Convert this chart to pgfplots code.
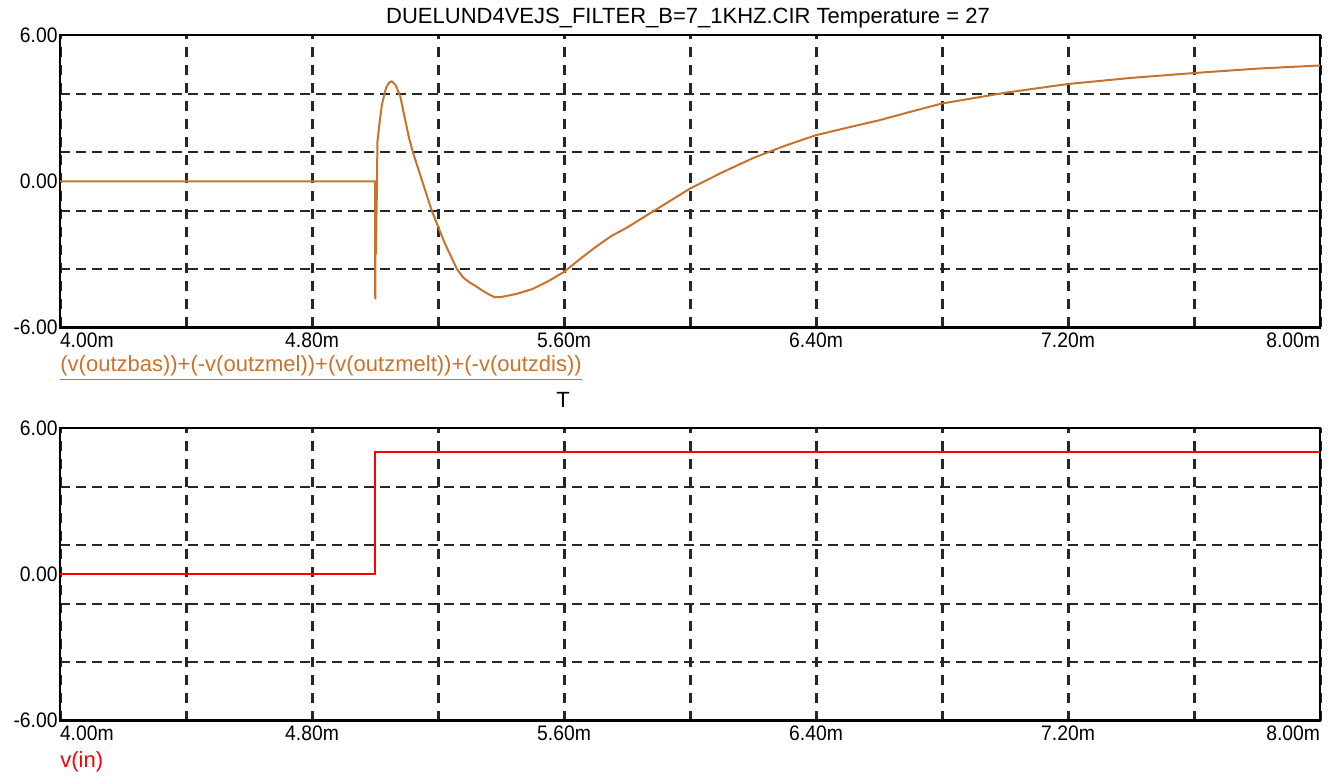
\documentclass[border=0pt]{standalone}
\usepackage{fontspec}
\setmainfont{Liberation Sans}
\newfontfamily\narrowfont{Liberation Sans}[FakeStretch=0.92]
\usepackage{pgfplots}
\pgfplotsset{compat=1.18}
\definecolor{curveor}{RGB}{200,115,45}
\definecolor{inred}{RGB}{255,0,0}

\pgfplotsset{
  panel/.style={
    scale only axis, width=630pt, height=146.25pt, anchor=south west,
    xmin=4, xmax=8, ymin=-6, ymax=6,
    xtick={4,4.4,4.8,5.2,5.6,6.0,6.4,6.8,7.2,7.6,8},
    xticklabels={{\rlap{4.00m}},{},{4.80m},{},{5.60m},{},{6.40m},{},{7.20m},{},{\llap{8.00m}}},
    ytick={-6,0,6}, yticklabels={-6.00,0.00,6.00},
    minor ytick={-3.6,-1.2,1.2,3.6},
    xmajorgrids, yminorgrids, ymajorgrids=false,
    major grid style={black!85, line width=1.5pt, dash pattern=on 5pt off 4pt},
    minor grid style={black!85, line width=1pt, dash pattern=on 5pt off 3pt},
    major tick length=0pt, minor tick length=0pt,
    axis line style={black, line width=1.3pt},
    tick label style={font=\narrowfont\fontsize{10.5}{12}\selectfont},
    xticklabel style={anchor=north, inner sep=1pt, yshift=-1.5pt},
    yticklabel style={anchor=east, inner sep=1pt},
  }
}

\begin{document}
\begin{tikzpicture}
\path[use as bounding box] (0pt,0pt) rectangle (666.5pt,389pt);

\begin{axis}[panel, at={(30pt,225.25pt)}]
\addplot[curveor, line width=1pt] coordinates {
(4.0,0) (5.0,0) (5.0008,-4.85) (5.002,-0.8) (5.003,-3.0) (5.005,-1.1)
(5.0065,-0.2) (5.0075,1.6) (5.015,2.45) (5.022,3.15) (5.035,3.83)
(5.045,4.05) (5.053,4.1) (5.065,3.95) (5.08,3.5) (5.092,2.75)
(5.108,1.78) (5.12,1.2) (5.14,0.4) (5.16,-0.4) (5.18,-1.2)
(5.2,-1.85) (5.22,-2.5) (5.24,-3.05) (5.26,-3.6) (5.28,-3.95)
(5.3,-4.15) (5.32,-4.3) (5.34,-4.48) (5.36,-4.63) (5.38,-4.76)
(5.4,-4.75) (5.45,-4.62) (5.5,-4.42) (5.55,-4.1) (5.6,-3.72)
(5.65,-3.2) (5.7,-2.7) (5.75,-2.25) (5.8,-1.9) (5.85,-1.5)
(5.9,-1.1) (5.95,-0.7) (6.0,-0.3) (6.1,0.35) (6.2,0.95)
(6.3,1.45) (6.4,1.89) (6.5,2.2) (6.6,2.5) (6.7,2.85)
(6.8,3.19) (7.0,3.63) (7.2,3.99) (7.4,4.24) (7.6,4.44)
(7.8,4.62) (8.0,4.75)
};
\end{axis}

\begin{axis}[panel, at={(30pt,28.75pt)}]
\addplot[inred, line width=1pt] coordinates {
(4.0,0) (5.0,0) (5.0,5.0) (8.0,5.0)
};
\end{axis}

\node[font=\fontsize{11}{13}\selectfont] at (344pt,380pt) {DUELUND4VEJS\_FILTER\_B=7\_1KHZ.CIR Temperature = 27};
\node[anchor=west, inner sep=0pt, text=curveor, font=\fontsize{11}{13}\selectfont] at (30pt,205pt) {\underline{(v(outzbas))+(-v(outzmel))+(v(outzmelt))+(-v(outzdis))}};
\node[font=\fontsize{11}{13}\selectfont] at (281.5pt,189pt) {T};
\node[anchor=west, inner sep=0pt, text=inred, font=\fontsize{11}{13}\selectfont] at (30pt,8pt) {v(in)};
\end{tikzpicture}
\end{document}
